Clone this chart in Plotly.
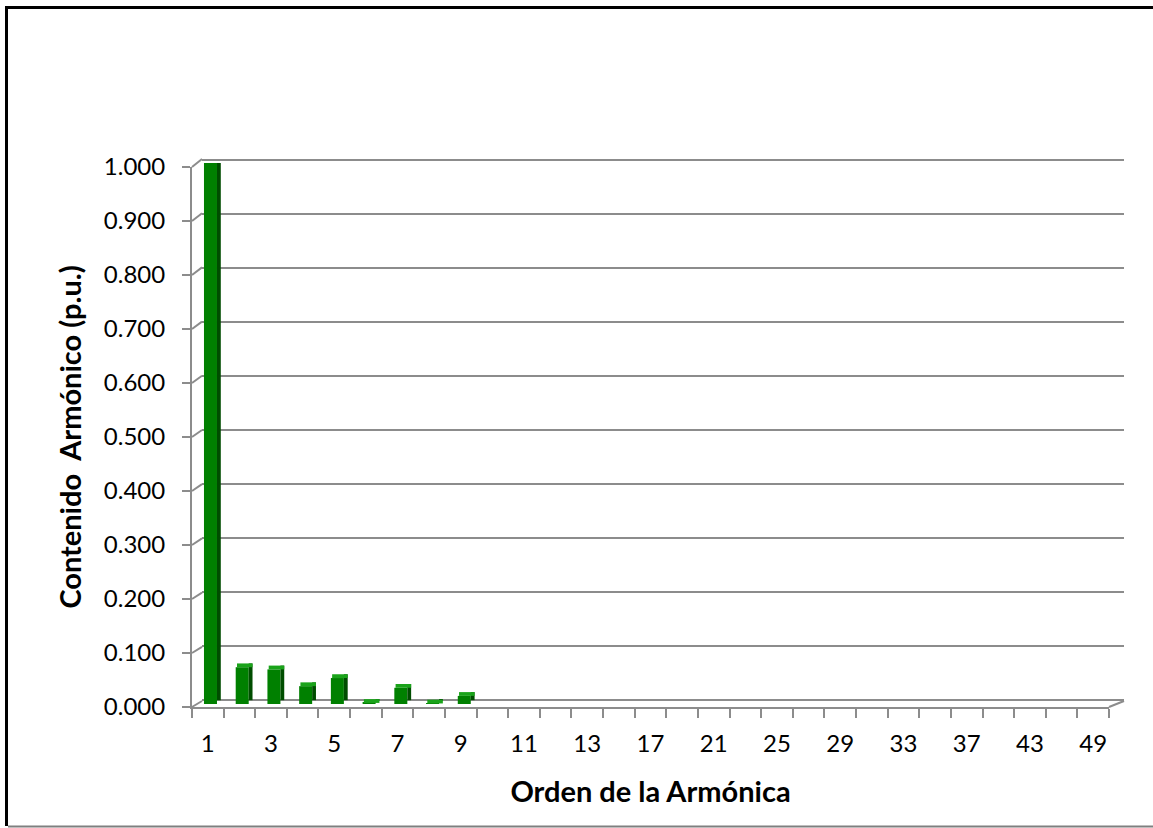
import plotly.graph_objects as go

# ---- data ----
orders = [1, 2, 3, 4, 5, 6, 7, 8, 9, 10, 11, 12, 13, 15, 17, 19, 21, 23, 25, 27,
          29, 31, 33, 35, 37, 41, 43, 47, 49]
content = [1.000, 0.068, 0.064, 0.033, 0.048, 0.002, 0.030, 0.001, 0.015, 0.0,
           0.0, 0.0, 0.0, 0.0, 0.0, 0.0, 0.0, 0.0, 0.0, 0.0,
           0.0, 0.0, 0.0, 0.0, 0.0, 0.0, 0.0, 0.0, 0.0]
y_ticks = [0.0, 0.1, 0.2, 0.3, 0.4, 0.5, 0.6, 0.7, 0.8, 0.9, 1.0]

W, H = 1153, 828
idx = list(range(len(orders)))
label_idx = idx[::2]
label_txt = [str(orders[i]) for i in label_idx]

def px_x(p):
    return p / W

def px_y(p):
    return 1 - p / H

FONT = "Lato"
GRAY = "#8c8c8c"
DEPTH = 0.007  # visual depth of 3D caps (style)

fig = go.Figure()

# helper (invisible) traces so the front and back axes get drawn
for xa, ya in (("x", "y"), ("x2", "y2")):
    fig.add_trace(go.Scatter(x=idx, y=content, mode="markers",
                             marker=dict(opacity=0, size=1),
                             xaxis=xa, yaxis=ya, hoverinfo="skip"))

# front faces
fig.add_trace(go.Bar(x=idx, y=content, base=0, offset=-0.28, width=0.41,
                     marker=dict(color="#008000", line=dict(width=0)),
                     xaxis="x3", yaxis="y3", hoverinfo="skip"))
# side faces
fig.add_trace(go.Bar(x=idx, y=content, base=[DEPTH if v > 0 else 0 for v in content],
                     offset=0.13, width=0.12,
                     marker=dict(color="#004d00", line=dict(width=0)),
                     xaxis="x3", yaxis="y3", hoverinfo="skip"))
# top caps
fig.add_trace(go.Bar(x=idx, y=[DEPTH if v > 0 else 0 for v in content], base=content,
                     offset=-0.24, width=0.49,
                     marker=dict(color="#1aa31a", line=dict(width=0)),
                     xaxis="x3", yaxis="y3", hoverinfo="skip"))

# front axes geometry (px, page coords)
fx0, fx1, fy0, fy1 = 192, 1109, 707, 167
# back wall geometry
bx0, bx1, by0, by1 = 202, 1124, 701, 159
# bar plane geometry
cx0, cx1, cy0, cy1 = 197, 1117, 704, 163

tickfont = dict(family=FONT, size=24, color="black")
titlefont = dict(family=FONT, size=29, color="black")

hidden = dict(visible=False, automargin=False)

fig.update_layout(
    width=W, height=H,
    margin=dict(l=0, r=0, t=0, b=0, pad=0, autoexpand=False),
    paper_bgcolor="white", plot_bgcolor="rgba(0,0,0,0)",
    showlegend=False, barmode="overlay",
    xaxis=dict(domain=[px_x(fx0), px_x(fx1)], range=[-0.5, len(orders) - 0.5],
               anchor="y", automargin=False, showgrid=False, zeroline=False,
               showline=True, linecolor=GRAY, linewidth=2,
               tickmode="array", tickvals=label_idx, ticktext=label_txt,
               ticks="", ticklabelstandoff=14, tickfont=tickfont,
               minor=dict(tickmode="linear", tick0=-0.5, dtick=1, ticks="outside",
                          ticklen=9, tickwidth=2, tickcolor=GRAY, showgrid=False),
               title=dict(text="<b>Orden de la Armónica</b>", font=titlefont, standoff=26)),
    yaxis=dict(domain=[px_y(fy0), px_y(fy1)], range=[0, 1], anchor="x",
               automargin=False, showgrid=False, zeroline=False,
               showline=True, linecolor=GRAY, linewidth=2,
               tickmode="array", tickvals=y_ticks, tickformat=".3f",
               ticks="outside", ticklen=8, tickwidth=2, tickcolor=GRAY,
               ticklabelstandoff=12, tickfont=tickfont,
               title=dict(text="<b>Contenido  Armónico (p.u.)</b>", font=titlefont, standoff=14)),
    xaxis2=dict(domain=[px_x(bx0), px_x(bx1)], range=[-0.5, len(orders) - 0.5],
                anchor="y2", **hidden),
    yaxis2=dict(domain=[px_y(by0), px_y(by1)], range=[-0.002, 1.002], anchor="x2",
                automargin=False,
                showgrid=True, gridcolor=GRAY, gridwidth=2, zeroline=False,
                showline=False, showticklabels=False, ticks="",
                tickmode="array", tickvals=y_ticks),
    xaxis3=dict(domain=[px_x(cx0), px_x(cx1)], range=[-0.5, len(orders) - 0.5],
                anchor="y3", **hidden),
    yaxis3=dict(domain=[px_y(cy0), px_y(cy1)], range=[0, 1], anchor="x3", **hidden),
)

shapes = []
# diagonal connectors between front axis ticks and back wall gridlines
for v in y_ticks:
    ya = fy0 - (fy0 - fy1) * v
    yb = by0 - (by0 - by1) * v
    shapes.append(dict(type="line", xref="paper", yref="paper",
                       x0=px_x(fx0), y0=px_y(ya), x1=px_x(bx0), y1=px_y(yb),
                       line=dict(color=GRAY, width=2)))
# right floor edge
shapes.append(dict(type="line", xref="paper", yref="paper",
                   x0=px_x(fx1), y0=px_y(fy0), x1=px_x(bx1), y1=px_y(by0),
                   line=dict(color=GRAY, width=2)))
# chart frame
shapes.append(dict(type="line", xref="paper", yref="paper",
                   x0=px_x(5), y0=px_y(7.5), x1=1, y1=px_y(7.5),
                   line=dict(color="black", width=3)))
shapes.append(dict(type="line", xref="paper", yref="paper",
                   x0=px_x(6.5), y0=px_y(6), x1=px_x(6.5), y1=px_y(826),
                   line=dict(color="black", width=3)))
shapes.append(dict(type="line", xref="paper", yref="paper",
                   x0=px_x(8), y0=px_y(826.5), x1=1, y1=px_y(826.5),
                   line=dict(color="#7f7f7f", width=2)))
fig.update_layout(shapes=shapes)

fig.write_html("out.html", config={"displayModeBar": False},
               post_script="document.body.style.margin='0';")
